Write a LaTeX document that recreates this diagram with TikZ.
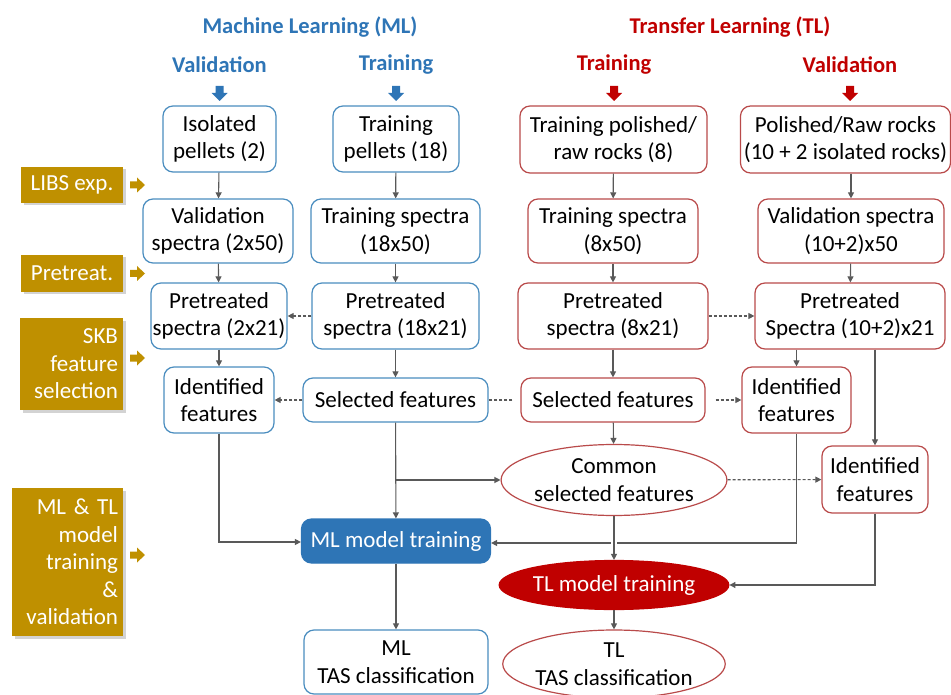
\documentclass[tikz,border=0pt]{standalone}
\usepackage{fontspec}
\setmainfont{Carlito}
\usetikzlibrary{arrows.meta,shapes.geometric,shadows}

\definecolor{mlblue}{HTML}{2E75B6}
\definecolor{mledge}{HTML}{4A8DBF}
\definecolor{tlred}{HTML}{C00000}
\definecolor{tledge}{HTML}{B94A4A}
\definecolor{gold}{HTML}{BF9000}
\definecolor{wire}{HTML}{595959}

\tikzset{
  txt/.style={font=\fontsize{23}{27.5}\selectfont, align=center, inner sep=0pt},
  head/.style={font=\fontsize{22.5}{26}\selectfont\bfseries, inner sep=0pt},
  mlbox/.style={txt, draw=mledge, line width=1.2pt, rounded corners=10pt, fill=white},
  tlbox/.style={txt, draw=tledge, line width=1.2pt, rounded corners=10pt, fill=white},
  tloval/.style={txt, ellipse, draw=tledge, line width=1.2pt, fill=white},
  goldbox/.style={txt, fill=gold, text=white, align=right, inner sep=0pt,
    drop shadow={shadow xshift=2.5pt, shadow yshift=-2.5pt, opacity=0.35}},
  sz/.style n args={2}{minimum width=#1pt, minimum height=#2pt},
  flow/.style={draw=wire, line width=1.1pt, -{Triangle[length=6pt,width=6pt]}},
  flowdash/.style={flow, dashed, dash pattern=on 3pt off 2pt},
  plain/.style={draw=wire, line width=1.1pt, dashed, dash pattern=on 3pt off 2pt},
  rarrow/.pic={\fill (0,-3.5)--(7,-3.5)--(7,-7.5)--(15,0)--(7,7.5)--(7,3.5)--(0,3.5)--cycle;},
  darrow/.pic={\fill (-4,-7)--(4,-7)--(4,0)--(8,0)--(0,8)--(-8,0)--(-4,0)--cycle;}
}

\begin{document}
\begin{tikzpicture}[x=1pt,y=-1pt]
\useasboundingbox (0,0) rectangle (951,695);

% headings
\node[head, text=mlblue] (hml) at (310,27) {Machine Learning (ML)};
\node[head, text=tlred] (htl) at (730,27) {Transfer Learning (TL)};
\node[head, text=mlblue] (hmlv) at (219.5,65) {Validation};
\node[head, text=mlblue] (hmlt) at (396,65) {Training};
\node[head, text=tlred] (htlt) at (614,65) {Training};
\node[head, text=tlred] (htlv) at (850,65) {Validation};
\pic[mlblue] at (219.5,93) {darrow};
\pic[mlblue] at (396,93) {darrow};
\pic[tlred] at (614,93) {darrow};
\pic[tlred] at (850,93) {darrow};

% stage labels
\node[goldbox, sz={102}{36}, align=center] (libs) at (72,185) {LIBS exp.};
\node[goldbox, sz={102}{37}, align=center] (pret) at (72,273.5) {Pretreat.};
\node[goldbox, sz={103}{92}, text width=93pt] (skb) at (71.5,364) {SKB\\feature\\selection};
\node[goldbox, sz={111}{148}, text width=101pt] (mltl) at (67.5,562) {ML \& TL\\model\\training\\\&\\validation};
\pic[gold] at (130,185) {rarrow};
\pic[gold] at (130,273.5) {rarrow};
\pic[gold] at (130,358) {rarrow};
\pic[gold] at (130,555) {rarrow};

% ML validation column
\node[mlbox, sz={113}{66}] (iso) at (219.5,139) {Isolated\\pellets (2)};
\node[mlbox, sz={150}{64}] (vspec) at (218,231) {Validation\\spectra (2x50)};
\node[mlbox, sz={136}{66}] (pre1) at (219,316) {Pretreated\\spectra (2x21)};
\node[mlbox, sz={110}{66}] (idf1) at (219,400) {Identified\\features};

% ML training column
\node[mlbox, sz={126}{66}] (tpel) at (396,139) {Training\\pellets (18)};
\node[mlbox, sz={169}{64}] (tspec) at (395.5,231) {Training spectra\\(18x50)};
\node[mlbox, sz={167}{66}] (pre2) at (395.5,316) {Pretreated\\spectra (18x21)};
\node[mlbox, sz={185}{44}] (sel1) at (395.5,400) {Selected features};
\node[mlbox, sz={189}{44}, fill=mlblue, draw=mlblue, text=white] (mlt) at (396,541) {ML model training};
\node[mlbox, sz={184}{64}] (mltas) at (396,662) {ML\\TAS classification};

% TL training column
\node[tlbox, sz={187}{67}] (trock) at (613.5,139.5) {Training polished/\\raw rocks (8)};
\node[tlbox, sz={170}{64}] (tlspec) at (613,231) {Training spectra\\(8x50)};
\node[tlbox, sz={190}{66}] (pre3) at (613,316) {Pretreated\\spectra (8x21)};
\node[tlbox, sz={184}{44}] (sel2) at (613,400) {Selected features};
\node[tloval, sz={222}{71}] (common) at (614,480) {Common\\selected features};
\node[tloval, sz={197}{49}, fill=tlred, draw=tlred, text=white] (tlt) at (614,585) {TL model training};
\node[tloval, sz={222}{68}] (tltas) at (614,664) {TL\\TAS classification};

% TL validation column
\node[tlbox, sz={210}{67}] (prock) at (845.5,139.5) {Polished/Raw rocks\\(10 + 2 isolated rocks)};
\node[tlbox, sz={186}{64}] (vspec2) at (851,231) {Validation spectra\\(10+2)x50};
\node[tlbox, sz={190}{66}] (pre4) at (850,316) {Pretreated\\Spectra (10+2)x21};
\node[tlbox, sz={109}{66}] (idf2) at (796.5,400) {Identified\\features};
\node[tlbox, sz={106}{67}] (idf3) at (875,479.5) {Identified\\features};

% vertical flow
\draw[flow] (iso) -- (vspec);
\draw[flow] (vspec) -- (pre1);
\draw[flow] (pre1) -- (idf1);
\draw[flow] (tpel) -- (tspec);
\draw[flow] (tspec) -- (pre2);
\draw[flow] (pre2) -- (sel1);
\draw[flow] (trock) -- (tlspec);
\draw[flow] (tlspec) -- (pre3);
\draw[flow] (pre3) -- (sel2);
\draw[flow] (sel2) -- (common);
\draw[flow] (prock.south -| vspec2) -- (vspec2);
\draw[flow] (vspec2) -- (pre4);
\draw[flow] (pre4.south -| idf2) -- (idf2);
\draw[flow] (pre4.south -| idf3) -- (idf3);
\draw[flow] (mlt) -- (mltas);
\draw[flow] (tlt) -- (tltas);

% dashed links between columns
\draw[flowdash] (pre2) -- (pre1);
\draw[flowdash] (sel1) -- (idf1);
\draw[plain, shorten <=8pt] (sel2) -- (sel1);
\draw[flowdash, shorten <=10pt] (sel2) -- (idf2);
\draw[flowdash] (pre3) -- (pre4);
\draw[flowdash] (common) -- (idf3);

% feeding the models
\coordinate (fork) at (sel1 |- common);
\draw[flow] (sel1) -- (mlt);
\draw[flow] (fork) -- (common);
\draw[flow] (idf1.south) |- ([yshift=-1pt]mlt.west);
\draw[flow] (idf2.south) |- ([yshift=-2pt]mlt.east);
\draw[flow] (idf3.south) |- (tlt.east);
\draw[flow, preaction={draw=white, line width=6pt, shorten <=5pt, shorten >=8pt, -}] (common) -- (tlt);
\end{tikzpicture}
\end{document}
